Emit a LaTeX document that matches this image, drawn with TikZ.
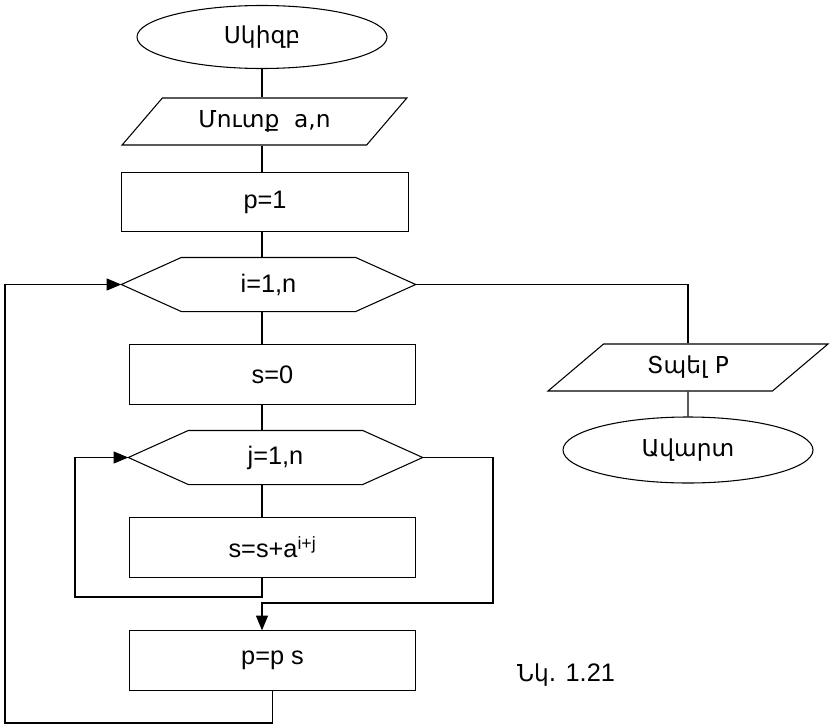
\documentclass[tikz,border=0pt]{standalone}
\usepackage{fontspec}
\setmainfont{Liberation Sans}
\newfontfamily\armfont[Scale=0.92]{DejaVu Sans}
\usetikzlibrary{arrows.meta, shapes.geometric}

% outline of a loop header (hexagon round a node)
\newcommand\hexframe[1]{%
  \draw (#1.west) -- ([xshift=45pt]#1.north west) -- ([xshift=-45pt]#1.north east)
    -- (#1.east) -- ([xshift=-45pt]#1.south east) -- ([xshift=45pt]#1.south west) -- cycle;}

\begin{document}
\begin{tikzpicture}[x=0.75pt, y=-0.75pt, line width=0.8pt,
  every node/.style={font=\fontsize{19}{23}\selectfont},
  terminal/.style={draw, ellipse, minimum width=187.5pt, minimum height=47.25pt, inner sep=0pt},
  io/.style={draw, trapezium, trapezium left angle=40, trapezium right angle=140,
    trapezium stretches=true, minimum width=213.75pt, minimum height=35.25pt, inner sep=0pt},
  process/.style={draw, rectangle, minimum width=215pt, minimum height=44.5pt, inner sep=0pt},
  loophead/.style={rectangle, minimum width=220pt, minimum height=39.75pt, inner sep=0pt},
  flow/.style={-{Triangle[length=11pt, width=9pt]}}
]
  \useasboundingbox (0,0) rectangle (834,724);
  \coordinate (axis) at (262,0);

  \node[terminal] (start) at (262,37) {\armfont Սկիզբ};
  \node[io] (input) at (264.5,121.5) {\armfont Մուտք\ \ a,n};
  \node[process] (p1) at (265,202) {p=1};
  \node[loophead] (hexI) at (268.5,284.5) {i=1,n};
  \hexframe{hexI}
  \node[process] (s0) at (272.5,374.5) {s=0};
  \node[loophead] (hexJ) at (275.5,457.5) {j=1,n};
  \hexframe{hexJ}
  \node[process] (ssa) at (272.5,547.5) {s=s+a\textsuperscript{i+j}};
  \node[process] (pps) at (272.5,660.5) {p=p s};
  \node[io, minimum width=210pt] (out) at (688,367.5) {\armfont Տպել\ P\hspace{28pt}};
  \node[terminal, minimum height=49.5pt] (end) at (688,450) {\armfont Ավարտ};
  \node (caption) at (566,675) {{\armfont Նկ.} 1.21};

  \coordinate (innerL) at (75,597);
  \coordinate (exitJ) at (493,603);
  \coordinate (outerL) at (5,723);

  \draw (start.south) -- (start.south |- input.north);
  \draw (input.south -| axis) -- (p1.north -| axis);
  \draw (p1.south -| axis) -- (hexI.north -| axis);
  \draw (hexI.south -| axis) -- (s0.north -| axis);
  \draw (s0.south -| axis) -- (hexJ.north -| axis);
  \draw (hexJ.south -| axis) -- (ssa.north -| axis);
  \draw[flow] (ssa.south -| axis) |- (innerL) |- (hexJ.west);
  \draw[flow] (hexJ.east) -| (exitJ) -| (pps.north -| axis);
  \draw[flow] (pps.south) |- (outerL) |- (hexI.west);
  \draw (hexI.east) -| (out.north);
  \draw (out) -- (end);
\end{tikzpicture}
\end{document}
